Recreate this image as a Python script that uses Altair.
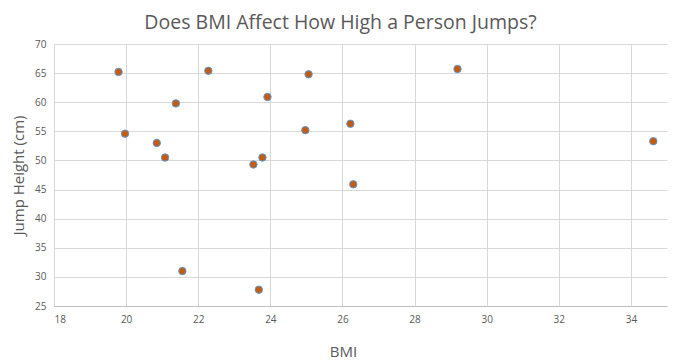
import altair as alt
import pandas as pd

bmi = [19.79, 19.97, 20.85, 21.08, 21.38, 21.56, 22.28, 23.53, 23.78, 23.68,
       23.92, 24.97, 25.06, 26.22, 26.30, 29.19, 34.62]
jump = [65.2, 54.6, 53.0, 50.5, 59.8, 31.0, 65.4, 49.3, 50.5, 27.8,
        60.9, 55.2, 64.8, 56.3, 45.9, 65.7, 53.3]

df = pd.DataFrame({"BMI": bmi, "Jump": jump})

font = "Open Sans"
txt = "#595959"
grid = "#D9D9D9"

chart = alt.Chart(df).mark_point(
    filled=True, size=55, fill="#C55A11", stroke="#5B9BD5", strokeWidth=1, opacity=1
).encode(
    x=alt.X("BMI:Q", title="BMI",
            scale=alt.Scale(domain=[18, 35], nice=False, zero=False),
            axis=alt.Axis(values=list(range(18, 36, 2)), grid=True, gridColor=grid,
                          domainColor="#BFBFBF", ticks=False, labelPadding=8,
                          labelFontSize=10, labelColor=txt, labelFont=font,
                          titleFont=font, titleFontSize=15, titleColor=txt,
                          titleFontWeight="normal", titlePadding=20,
                          titleX=289, titleAlign="center")),
    y=alt.Y("Jump:Q", title="Jump Height (cm)",
            scale=alt.Scale(domain=[25, 70], nice=False, zero=False),
            axis=alt.Axis(values=list(range(25, 71, 5)), grid=True, gridColor=grid,
                          domainColor=grid, ticks=False, labelPadding=8,
                          labelFontSize=10, labelColor=txt, labelFont=font,
                          titleFont=font, titleFontSize=15, titleColor=txt,
                          titleFontWeight="normal", titlePadding=8)),
).properties(
    width=613, height=262,
    title=alt.TitleParams("Does BMI Affect How High a Person Jumps?", font=font,
                          fontSize=19.5, fontWeight="normal", color=txt,
                          anchor="middle", offset=6, dx=-20),
    autosize=alt.AutoSizeParams(type="none"),
    padding={"left": 46, "top": 36, "right": 7, "bottom": 55},
).configure_view(stroke=None)

chart.save("out.html", embed_options={"renderer": "svg", "actions": False})
